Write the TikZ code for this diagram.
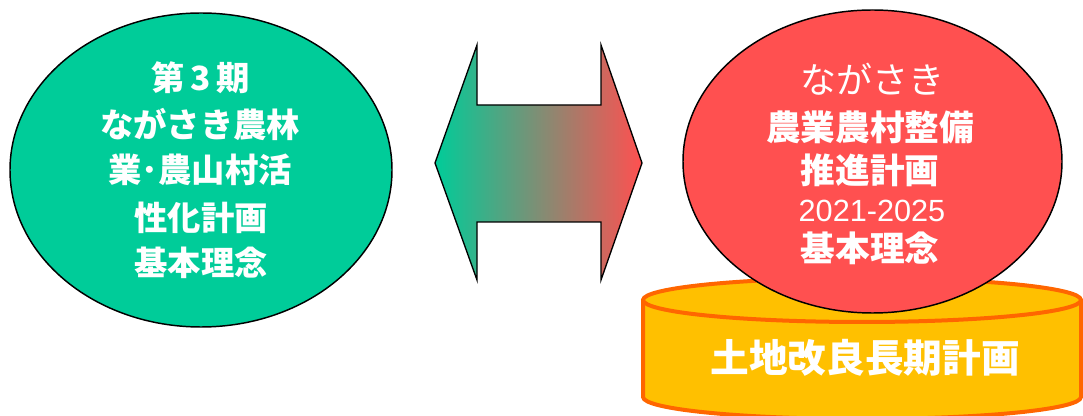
\documentclass[tikz,border=0pt]{standalone}
\usepackage{fontspec}
\setmainfont{Noto Sans CJK JP}
\newfontfamily\arialfont{Liberation Sans}
\usetikzlibrary{shapes.geometric}
\definecolor{grn}{HTML}{00CC99}
\definecolor{rd}{HTML}{FF5050}
\definecolor{mid}{RGB}{172,152,120}
\definecolor{yel}{HTML}{FFC000}
\definecolor{org}{HTML}{FF6600}
\begin{document}
\begin{tikzpicture}[x=0.75pt,y=-0.75pt,
  bubble/.style={ellipse, draw=black, line width=1.1pt, inner sep=0pt},
  lbl/.style={text=white, inner sep=0pt, font=\bfseries\fontsize{25pt}{30pt}\selectfont},
  rlbl/.style={text=white, inner sep=0pt, font=\bfseries\fontsize{26pt}{30pt}\selectfont},
  cyl/.style={fill=yel, draw=org, line width=3pt, line join=round}]
\useasboundingbox (0,0) rectangle (1083,416);

% cylinder (land improvement plan)
\path[cyl] (643,300) -- (643,397)
  .. controls (643,409.2) and (741,419) .. (862,419)
  .. controls (983,419) and (1081,409.2) .. (1081,397)
  -- (1081,300) -- cycle;
\path[cyl] (862,300) ellipse [x radius=219, y radius=22];
\node[text=white, inner sep=0pt, font=\bfseries\fontsize{29pt}{32pt}\selectfont] (land) at (865,358) {土地改良長期計画};

% double arrow
\shadedraw[left color=grn, middle color=mid, right color=rd, draw=black, line width=1pt, line join=miter]
  (435,163) -- (477,45) -- (477,105) -- (601,105) -- (601,45) -- (642,163)
  -- (601,280) -- (601,222) -- (477,222) -- (477,280) -- cycle;

% ellipses
\node[bubble, fill=grn, minimum width={382*0.75pt}, minimum height={314*0.75pt}] (left) at (201,170) {};
\node[bubble, fill=rd, minimum width={379*0.75pt}, minimum height={303*0.75pt}] (right) at (872.5,161.5) {};

% left text
\node[lbl] (l1) at (201,78) {第\,3\,期};
\node[lbl] (l2) at (200,124) {ながさき農林};
\node[lbl] (l3) at (200,170) {業･農山村活};
\node[lbl] (l4) at (201,218) {性化計画};
\node[lbl] (l5) at (201,263) {基本理念};

% right text
\node[text=white, inner sep=0pt, font=\fontsize{27pt}{30pt}\selectfont] (r1) at (872,79) {ながさき};
\node[rlbl] (r2) at (870,127) {農業農村整備};
\node[rlbl] (r3) at (870,170) {推進計画};
\node[text=white, inner sep=0pt, font=\arialfont\fontsize{23pt}{28pt}\selectfont] (r4) at (872,211) {2021-2025};
\node[rlbl] (r5) at (870,248) {基本理念};
\end{tikzpicture}
\end{document}
